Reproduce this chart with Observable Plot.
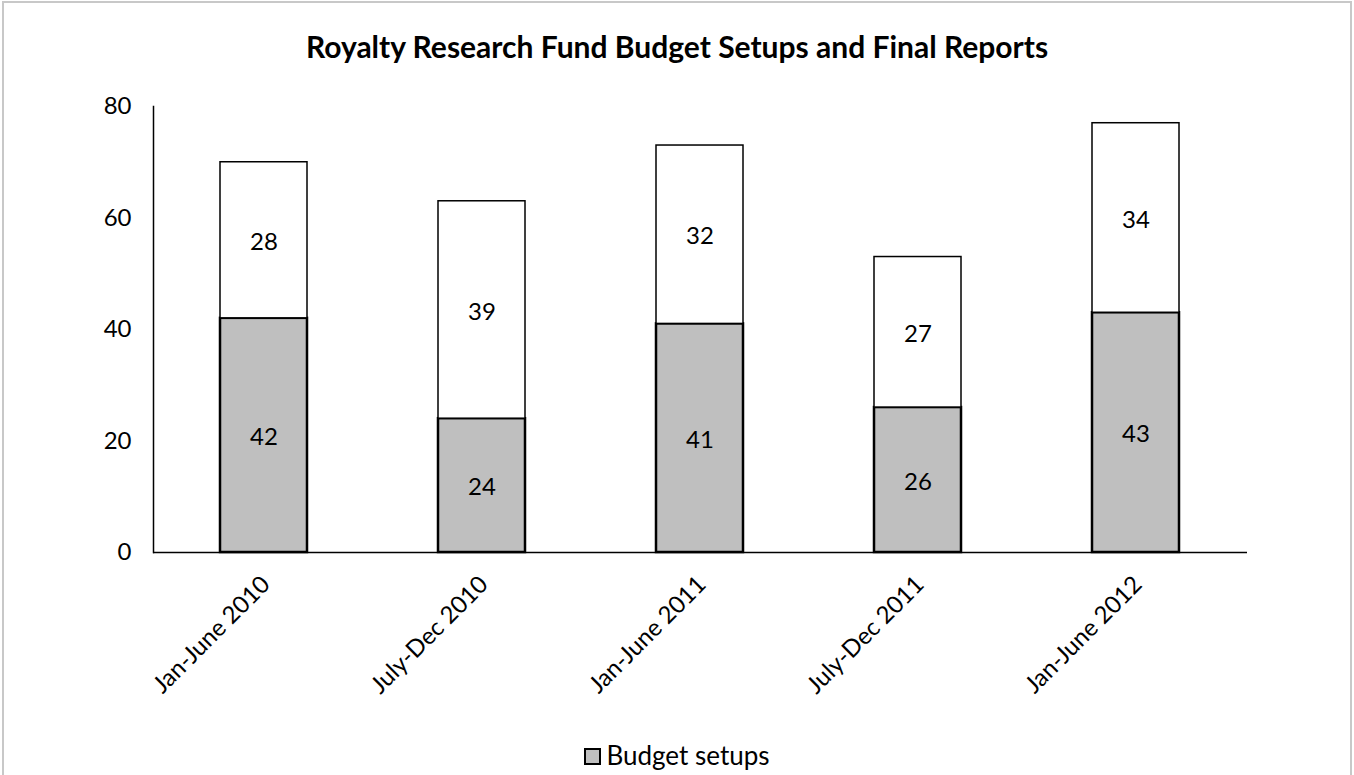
<!DOCTYPE html>
<html>
<head>
<meta charset="utf-8">
<script src="https://cdn.jsdelivr.net/npm/d3@7"></script>
<script src="https://cdn.jsdelivr.net/npm/@observablehq/plot@0.6"></script>
<style>
  body { margin: 0; background: #fff; font-family: Lato, "Open Sans", sans-serif; }
  #wrap { position: relative; width: 1354px; height: 775px; overflow: hidden; }
  #border { position: absolute; left: 2px; top: 1px; width: 1346px; height: 820px; border: 2px solid #c8c8c8; }
  #title { position: absolute; left: 0; top: 0; width: 1354px; height: 80px; text-align: center; font-weight: bold; font-size: 30px; line-height: 92px; color: #000; }
  #chart { position: absolute; left: 0; top: 80px; }
  #legend { position: absolute; left: 0; top: 738px; width: 1354px; text-align: center; font-size: 26px; line-height: 34px; color: #000; }
  #legend .sw { display: inline-block; width: 13px; height: 13px; background: #bfbfbf; border: 2px solid #000; vertical-align: 0px; margin-right: 5px; }
</style>
</head>
<body>
<div id="wrap">
  <div id="border"></div>
  <div id="title">Royalty Research Fund Budget Setups and Final Reports</div>
  <div id="chart"></div>
  <div id="legend"><span class="sw"></span>Budget setups</div>
</div>
<script>
const periods = ["Jan-June 2010", "July-Dec 2010", "Jan-June 2011", "July-Dec 2011", "Jan-June 2012"];
const budgetSetups = [42, 24, 41, 26, 43];
const finalReports = [28, 39, 32, 27, 34];
const yTicks = [0, 20, 40, 60, 80];

const rows = [];
periods.forEach((p, i) => {
  const b = budgetSetups[i], f = finalReports[i];
  rows.push({period: p, series: "Budget setups", value: b, y1: 0, y2: b, mid: b / 2});
  rows.push({period: p, series: "Final reports", value: f, y1: b, y2: b + f, mid: b + f / 2});
});
const lowerRows = rows.filter(d => d.series === "Budget setups");
const upperRows = rows.filter(d => d.series === "Final reports");

const chart = Plot.plot({
  width: 1354,
  height: 640,
  marginLeft: 153,
  marginRight: 107,
  marginTop: 26,
  marginBottom: 168,
  style: {fontFamily: "Lato, 'Open Sans', sans-serif", fontSize: "24px", color: "#000", background: "transparent", overflow: "visible"},
  x: {domain: periods, paddingInner: 0.6, paddingOuter: 0.3, label: null},
  y: {domain: [0, 80], label: null},
  marks: [
    Plot.barY(lowerRows, {x: "period", y1: "y1", y2: "y2", fill: "#bfbfbf", stroke: "#000", strokeWidth: 2.5}),
    Plot.barY(upperRows, {x: "period", y1: "y1", y2: "y2", fill: "#fff", stroke: "#000", strokeWidth: 1.5}),
    Plot.text(rows, {x: "period", y: "mid", text: d => String(d.value), fontSize: 24, fill: "#000", dy: 2}),
    Plot.ruleY([0], {stroke: "#000", strokeWidth: 1.5}),
    Plot.frame({anchor: "left", stroke: "#000", strokeWidth: 1.5}),
    Plot.axisY({ticks: yTicks, tickSize: 0, tickPadding: 22, label: null, fontSize: 24, tickFormat: d => String(d)}),
    Plot.axisX({tickSize: 0, tickPadding: 28, tickRotate: -45, label: null, fontSize: 24, dx: 2})
  ]
});
document.getElementById("chart").appendChild(chart);
</script>
</body>
</html>
